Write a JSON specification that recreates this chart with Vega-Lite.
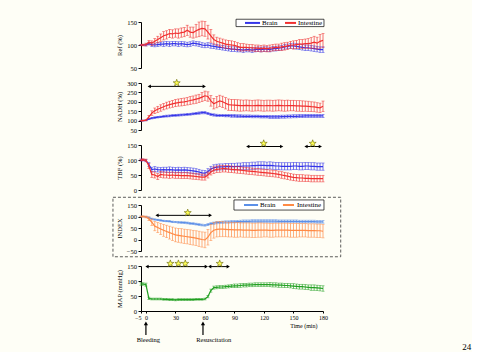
{
"$schema":"https://vega.github.io/schema/vega-lite/v6.json",
"background":"#fefef6",
"padding":{"left":112,"top":18,"right":0,"bottom":0},
"bounds":"flush",
"spacing":15,
"resolve":{"scale":{"x":"independent","y":"independent","color":"independent"}},
"config":{
 "view":{"stroke":null},
 "font":"Liberation Serif",
 "axis":{"labelFont":"Liberation Serif","labelFontSize":6.5,"labelColor":"#000","domainColor":"#000","tickColor":"#000","tickSize":3,"grid":false,"titleFont":"Liberation Serif","titleFontSize":6.5,"titleFontWeight":"normal","titleColor":"#000","labelPadding":1.5,"labelOverlap":false,"labelFlush":false},
 "axisY":{"minExtent":15,"maxExtent":15,"titlePadding":4}
},
"datasets":{
"d":[
{"t":-5,"rb":100,"rbe":1,"ri":100,"rie":1,"nb":100,"nbe":2,"ni":100,"nie":2,"tb":100,"tbe":3,"ti":100,"tie":3,"xb":100,"xbe":2,"xi":100,"xie":2,"m":90,"me":4},
{"t":-3,"rb":100,"rbe":1,"ri":100,"rie":2,"nb":100,"nbe":2,"ni":100,"nie":2,"tb":100,"tbe":3,"ti":101,"tie":3,"xb":100,"xbe":2,"xi":100,"xie":3,"m":90,"me":4},
{"t":0,"rb":100,"rbe":2,"ri":101,"rie":3,"nb":101,"nbe":2,"ni":102,"nie":3,"tb":98,"tbe":4,"ti":99,"tie":4,"xb":99,"xbe":2,"xi":98,"xie":4,"m":88,"me":5},
{"t":3,"rb":103,"rbe":3,"ri":106,"rie":4,"nb":108,"nbe":3,"ni":120,"nie":8,"tb":85,"tbe":6,"ti":80,"tie":8,"xb":95,"xbe":3,"xi":90,"xie":8,"m":42,"me":4},
{"t":6,"rb":101,"rbe":4,"ri":104,"rie":5,"nb":113,"nbe":4,"ni":140,"nie":12,"tb":68,"tbe":8,"ti":52,"tie":10,"xb":90,"xbe":3,"xi":75,"xie":14,"m":40,"me":3},
{"t":9,"rb":100,"rbe":4,"ri":108,"rie":6,"nb":116,"nbe":4,"ni":152,"nie":15,"tb":70,"tbe":8,"ti":50,"tie":10,"xb":87,"xbe":3,"xi":58,"xie":20,"m":40,"me":3},
{"t":12,"rb":101,"rbe":4,"ri":112,"rie":7,"nb":118,"nbe":4,"ni":160,"nie":16,"tb":68,"tbe":8,"ti":45,"tie":10,"xb":85,"xbe":3,"xi":52,"xie":22,"m":40,"me":3},
{"t":15,"rb":102,"rbe":4,"ri":116,"rie":8,"nb":120,"nbe":4,"ni":167,"nie":17,"tb":67,"tbe":8,"ti":52,"tie":10,"xb":83,"xbe":3,"xi":46,"xie":24,"m":40,"me":3},
{"t":18,"rb":102,"rbe":5,"ri":120,"rie":9,"nb":122,"nbe":4,"ni":174,"nie":17,"tb":68,"tbe":8,"ti":50,"tie":10,"xb":81,"xbe":3,"xi":40,"xie":26,"m":39,"me":3},
{"t":21,"rb":103,"rbe":5,"ri":122,"rie":9,"nb":124,"nbe":5,"ni":180,"nie":18,"tb":67,"tbe":9,"ti":50,"tie":10,"xb":80,"xbe":3,"xi":35,"xie":27,"m":39,"me":3},
{"t":24,"rb":102,"rbe":5,"ri":125,"rie":9,"nb":125,"nbe":5,"ni":185,"nie":18,"tb":68,"tbe":9,"ti":49,"tie":10,"xb":79,"xbe":3,"xi":30,"xie":28,"m":38,"me":3},
{"t":27,"rb":103,"rbe":5,"ri":124,"rie":9,"nb":127,"nbe":5,"ni":189,"nie":18,"tb":67,"tbe":9,"ti":50,"tie":10,"xb":77,"xbe":3,"xi":25,"xie":29,"m":38,"me":3},
{"t":30,"rb":103,"rbe":5,"ri":126,"rie":9,"nb":128,"nbe":5,"ni":193,"nie":19,"tb":66,"tbe":9,"ti":49,"tie":10,"xb":76,"xbe":3,"xi":20,"xie":30,"m":37,"me":3},
{"t":33,"rb":102,"rbe":5,"ri":125,"rie":10,"nb":129,"nbe":5,"ni":196,"nie":19,"tb":67,"tbe":9,"ti":49,"tie":10,"xb":75,"xbe":4,"xi":18,"xie":30,"m":38,"me":3},
{"t":36,"rb":103,"rbe":5,"ri":127,"rie":10,"nb":130,"nbe":5,"ni":198,"nie":20,"tb":66,"tbe":9,"ti":48,"tie":10,"xb":74,"xbe":4,"xi":16,"xie":31,"m":38,"me":3},
{"t":39,"rb":102,"rbe":5,"ri":128,"rie":10,"nb":131,"nbe":5,"ni":200,"nie":20,"tb":67,"tbe":9,"ti":48,"tie":10,"xb":73,"xbe":4,"xi":14,"xie":31,"m":38,"me":3},
{"t":42,"rb":101,"rbe":5,"ri":132,"rie":11,"nb":133,"nbe":5,"ni":203,"nie":20,"tb":66,"tbe":9,"ti":48,"tie":10,"xb":72,"xbe":4,"xi":12,"xie":31,"m":38,"me":3},
{"t":45,"rb":102,"rbe":5,"ri":128,"rie":11,"nb":134,"nbe":5,"ni":207,"nie":21,"tb":65,"tbe":9,"ti":47,"tie":10,"xb":70,"xbe":4,"xi":10,"xie":32,"m":38,"me":3},
{"t":48,"rb":104,"rbe":5,"ri":127,"rie":12,"nb":136,"nbe":5,"ni":210,"nie":21,"tb":64,"tbe":9,"ti":46,"tie":10,"xb":69,"xbe":4,"xi":8,"xie":32,"m":38,"me":3},
{"t":51,"rb":103,"rbe":5,"ri":131,"rie":14,"nb":138,"nbe":6,"ni":214,"nie":22,"tb":62,"tbe":9,"ti":45,"tie":10,"xb":67,"xbe":4,"xi":6,"xie":32,"m":39,"me":3},
{"t":54,"rb":102,"rbe":5,"ri":134,"rie":16,"nb":140,"nbe":6,"ni":218,"nie":22,"tb":60,"tbe":9,"ti":44,"tie":10,"xb":65,"xbe":4,"xi":3,"xie":33,"m":39,"me":3},
{"t":57,"rb":100,"rbe":5,"ri":136,"rie":16,"nb":142,"nbe":6,"ni":225,"nie":24,"tb":57,"tbe":9,"ti":43,"tie":10,"xb":63,"xbe":4,"xi":0,"xie":33,"m":39,"me":3},
{"t":60,"rb":99,"rbe":5,"ri":135,"rie":16,"nb":142,"nbe":6,"ni":232,"nie":25,"tb":56,"tbe":9,"ti":43,"tie":10,"xb":62,"xbe":4,"xi":-2,"xie":34,"m":40,"me":3},
{"t":63,"rb":100,"rbe":5,"ri":128,"rie":15,"nb":138,"nbe":6,"ni":228,"nie":25,"tb":62,"tbe":9,"ti":50,"tie":10,"xb":65,"xbe":4,"xi":10,"xie":34,"m":48,"me":4},
{"t":66,"rb":98,"rbe":5,"ri":120,"rie":14,"nb":133,"nbe":6,"ni":205,"nie":28,"tb":70,"tbe":9,"ti":60,"tie":10,"xb":69,"xbe":4,"xi":30,"xie":35,"m":68,"me":5},
{"t":69,"rb":97,"rbe":5,"ri":112,"rie":10,"nb":130,"nbe":6,"ni":190,"nie":28,"tb":74,"tbe":10,"ti":66,"tie":11,"xb":71,"xbe":5,"xi":40,"xie":34,"m":78,"me":5},
{"t":72,"rb":96,"rbe":5,"ri":108,"rie":9,"nb":128,"nbe":6,"ni":198,"nie":30,"tb":76,"tbe":10,"ti":69,"tie":11,"xb":73,"xbe":5,"xi":44,"xie":33,"m":79,"me":5},
{"t":75,"rb":95,"rbe":5,"ri":106,"rie":9,"nb":127,"nbe":6,"ni":205,"nie":30,"tb":77,"tbe":10,"ti":70,"tie":11,"xb":74,"xbe":5,"xi":45,"xie":33,"m":80,"me":5},
{"t":78,"rb":94,"rbe":5,"ri":104,"rie":9,"nb":127,"nbe":6,"ni":200,"nie":30,"tb":77,"tbe":10,"ti":71,"tie":11,"xb":75,"xbe":5,"xi":45,"xie":33,"m":80,"me":5},
{"t":81,"rb":93,"rbe":5,"ri":102,"rie":9,"nb":126,"nbe":6,"ni":192,"nie":30,"tb":78,"tbe":10,"ti":71,"tie":11,"xb":76,"xbe":5,"xi":44,"xie":32,"m":81,"me":5},
{"t":84,"rb":92,"rbe":5,"ri":101,"rie":9,"nb":126,"nbe":6,"ni":185,"nie":30,"tb":78,"tbe":10,"ti":70,"tie":11,"xb":76,"xbe":5,"xi":43,"xie":32,"m":82,"me":5},
{"t":87,"rb":91,"rbe":5,"ri":100,"rie":9,"nb":125,"nbe":7,"ni":183,"nie":30,"tb":78,"tbe":11,"ti":69,"tie":11,"xb":77,"xbe":5,"xi":43,"xie":32,"m":83,"me":5},
{"t":90,"rb":91,"rbe":5,"ri":99,"rie":9,"nb":125,"nbe":7,"ni":182,"nie":30,"tb":78,"tbe":11,"ti":68,"tie":11,"xb":77,"xbe":5,"xi":42,"xie":32,"m":84,"me":6},
{"t":93,"rb":90,"rbe":5,"ri":97,"rie":8,"nb":124,"nbe":7,"ni":181,"nie":30,"tb":79,"tbe":11,"ti":67,"tie":11,"xb":78,"xbe":5,"xi":42,"xie":32,"m":84,"me":6},
{"t":96,"rb":90,"rbe":5,"ri":95,"rie":8,"nb":124,"nbe":7,"ni":180,"nie":30,"tb":79,"tbe":11,"ti":66,"tie":11,"xb":78,"xbe":6,"xi":42,"xie":31,"m":85,"me":6},
{"t":99,"rb":89,"rbe":5,"ri":95,"rie":8,"nb":123,"nbe":7,"ni":180,"nie":29,"tb":80,"tbe":11,"ti":65,"tie":11,"xb":79,"xbe":6,"xi":41,"xie":31,"m":86,"me":6},
{"t":102,"rb":90,"rbe":5,"ri":95,"rie":7,"nb":123,"nbe":7,"ni":181,"nie":29,"tb":80,"tbe":11,"ti":64,"tie":11,"xb":79,"xbe":6,"xi":41,"xie":31,"m":86,"me":6},
{"t":105,"rb":90,"rbe":5,"ri":94,"rie":7,"nb":123,"nbe":7,"ni":180,"nie":29,"tb":80,"tbe":11,"ti":63,"tie":11,"xb":79,"xbe":6,"xi":41,"xie":31,"m":87,"me":6},
{"t":108,"rb":89,"rbe":5,"ri":94,"rie":7,"nb":122,"nbe":7,"ni":179,"nie":29,"tb":81,"tbe":12,"ti":62,"tie":11,"xb":80,"xbe":6,"xi":40,"xie":31,"m":87,"me":6},
{"t":111,"rb":90,"rbe":5,"ri":93,"rie":7,"nb":122,"nbe":7,"ni":180,"nie":29,"tb":81,"tbe":12,"ti":61,"tie":11,"xb":80,"xbe":6,"xi":40,"xie":31,"m":88,"me":6},
{"t":114,"rb":91,"rbe":5,"ri":93,"rie":7,"nb":122,"nbe":7,"ni":181,"nie":29,"tb":82,"tbe":12,"ti":60,"tie":11,"xb":80,"xbe":6,"xi":41,"xie":31,"m":88,"me":6},
{"t":117,"rb":90,"rbe":5,"ri":92,"rie":7,"nb":121,"nbe":7,"ni":180,"nie":29,"tb":82,"tbe":12,"ti":59,"tie":11,"xb":80,"xbe":6,"xi":41,"xie":31,"m":88,"me":6},
{"t":120,"rb":91,"rbe":5,"ri":93,"rie":7,"nb":121,"nbe":7,"ni":179,"nie":29,"tb":82,"tbe":12,"ti":58,"tie":11,"xb":80,"xbe":6,"xi":41,"xie":30,"m":88,"me":6},
{"t":123,"rb":91,"rbe":5,"ri":92,"rie":7,"nb":121,"nbe":7,"ni":180,"nie":29,"tb":81,"tbe":12,"ti":57,"tie":11,"xb":80,"xbe":6,"xi":41,"xie":30,"m":88,"me":6},
{"t":126,"rb":90,"rbe":5,"ri":93,"rie":7,"nb":120,"nbe":8,"ni":180,"nie":29,"tb":82,"tbe":12,"ti":56,"tie":11,"xb":80,"xbe":6,"xi":40,"xie":30,"m":88,"me":7},
{"t":129,"rb":92,"rbe":5,"ri":94,"rie":7,"nb":120,"nbe":8,"ni":179,"nie":29,"tb":81,"tbe":12,"ti":55,"tie":11,"xb":80,"xbe":6,"xi":40,"xie":30,"m":87,"me":7},
{"t":132,"rb":92,"rbe":5,"ri":95,"rie":7,"nb":120,"nbe":8,"ni":180,"nie":29,"tb":80,"tbe":12,"ti":54,"tie":11,"xb":80,"xbe":6,"xi":41,"xie":30,"m":87,"me":7},
{"t":135,"rb":93,"rbe":5,"ri":95,"rie":7,"nb":120,"nbe":8,"ni":181,"nie":29,"tb":80,"tbe":12,"ti":52,"tie":11,"xb":79,"xbe":6,"xi":41,"xie":30,"m":86,"me":7},
{"t":138,"rb":94,"rbe":5,"ri":96,"rie":8,"nb":121,"nbe":8,"ni":180,"nie":29,"tb":79,"tbe":12,"ti":50,"tie":11,"xb":79,"xbe":6,"xi":41,"xie":30,"m":86,"me":7},
{"t":141,"rb":96,"rbe":5,"ri":97,"rie":8,"nb":121,"nbe":8,"ni":179,"nie":29,"tb":79,"tbe":12,"ti":48,"tie":11,"xb":79,"xbe":6,"xi":41,"xie":30,"m":85,"me":7},
{"t":144,"rb":97,"rbe":5,"ri":98,"rie":8,"nb":122,"nbe":8,"ni":180,"nie":29,"tb":79,"tbe":12,"ti":46,"tie":11,"xb":79,"xbe":6,"xi":41,"xie":30,"m":85,"me":7},
{"t":147,"rb":98,"rbe":5,"ri":100,"rie":8,"nb":122,"nbe":8,"ni":180,"nie":28,"tb":79,"tbe":12,"ti":44,"tie":11,"xb":79,"xbe":6,"xi":40,"xie":30,"m":84,"me":7},
{"t":150,"rb":98,"rbe":6,"ri":100,"rie":9,"nb":123,"nbe":8,"ni":180,"nie":28,"tb":80,"tbe":12,"ti":42,"tie":11,"xb":79,"xbe":6,"xi":40,"xie":30,"m":83,"me":8},
{"t":153,"rb":97,"rbe":6,"ri":101,"rie":9,"nb":123,"nbe":8,"ni":178,"nie":28,"tb":80,"tbe":12,"ti":41,"tie":11,"xb":79,"xbe":6,"xi":40,"xie":30,"m":82,"me":8},
{"t":156,"rb":96,"rbe":6,"ri":102,"rie":10,"nb":124,"nbe":8,"ni":178,"nie":28,"tb":79,"tbe":12,"ti":40,"tie":11,"xb":78,"xbe":6,"xi":40,"xie":29,"m":81,"me":8},
{"t":159,"rb":95,"rbe":6,"ri":102,"rie":10,"nb":124,"nbe":8,"ni":177,"nie":28,"tb":79,"tbe":12,"ti":40,"tie":11,"xb":78,"xbe":6,"xi":40,"xie":29,"m":81,"me":8},
{"t":162,"rb":94,"rbe":6,"ri":103,"rie":10,"nb":125,"nbe":8,"ni":177,"nie":27,"tb":80,"tbe":12,"ti":39,"tie":11,"xb":78,"xbe":6,"xi":40,"xie":29,"m":80,"me":8},
{"t":165,"rb":94,"rbe":6,"ri":103,"rie":11,"nb":125,"nbe":8,"ni":176,"nie":27,"tb":80,"tbe":12,"ti":39,"tie":11,"xb":78,"xbe":6,"xi":39,"xie":29,"m":79,"me":8},
{"t":168,"rb":93,"rbe":6,"ri":104,"rie":12,"nb":125,"nbe":8,"ni":174,"nie":26,"tb":79,"tbe":12,"ti":38,"tie":11,"xb":78,"xbe":6,"xi":39,"xie":29,"m":78,"me":9},
{"t":171,"rb":92,"rbe":6,"ri":106,"rie":13,"nb":125,"nbe":8,"ni":173,"nie":26,"tb":79,"tbe":12,"ti":38,"tie":11,"xb":78,"xbe":6,"xi":39,"xie":29,"m":78,"me":9},
{"t":174,"rb":91,"rbe":6,"ri":104,"rie":13,"nb":125,"nbe":8,"ni":170,"nie":25,"tb":78,"tbe":12,"ti":38,"tie":11,"xb":77,"xbe":6,"xi":38,"xie":29,"m":77,"me":9},
{"t":177,"rb":90,"rbe":6,"ri":108,"rie":15,"nb":125,"nbe":8,"ni":168,"nie":25,"tb":78,"tbe":12,"ti":38,"tie":11,"xb":77,"xbe":6,"xi":38,"xie":29,"m":76,"me":9},
{"t":180,"rb":90,"rbe":6,"ri":110,"rie":15,"nb":125,"nbe":8,"ni":176,"nie":28,"tb":78,"tbe":12,"ti":38,"tie":11,"xb":77,"xbe":6,"xi":36,"xie":29,"m":75,"me":9}
],
"arr":[{"p":2,"a":3.4,"b":59.3,"v":282},{"p":3,"a":103.5,"b":138,"v":145},{"p":3,"a":162.7,"b":177.3,"v":145},{"p":4,"a":11.3,"b":65.5,"v":105},{"p":5,"a":1.1,"b":61.4,"v":148},{"p":5,"a":64.8,"b":83.7,"v":148}],
"star":[{"p":2,"t":31.3,"v":300},{"p":3,"t":119.7,"v":155},{"p":3,"t":169.5,"v":155},{"p":4,"t":42.5,"v":116},{"p":5,"t":24.8,"v":158},{"p":5,"t":33,"v":158},{"p":5,"t":40,"v":158},{"p":5,"t":75,"v":158}]
},
"vconcat":[
{"width":182,"height":46,"data":{"name":"d"},
 "resolve":{"axis":{"x":"independent","y":"independent"}},
 "layer":[
  {"mark":{"type":"line","color":"#3535e8","strokeWidth":1.2},"encoding":{"x":{"field":"t","type":"quantitative","scale":{"domain":[-5,180],"nice":false,"zero":false},"axis":null},"y":{"field":"rb","type":"quantitative","scale":{"domain":[50,150],"nice":false,"zero":false},"axis":{"values":[50,100,150],"title":"Ref (%)","labelOverlap":false}}}},
  {"mark":{"type":"errorbar","ticks":true,"size":3,"thickness":0.7,"color":"#3535e8"},"encoding":{"x":{"field":"t","type":"quantitative","axis":null},"y":{"field":"rb","type":"quantitative","axis":null},"yError":{"field":"rbe"}}},
  {"mark":{"type":"errorbar","ticks":true,"size":3,"thickness":0.7,"color":"#f03030"},"encoding":{"x":{"field":"t","type":"quantitative","axis":null},"y":{"field":"ri","type":"quantitative","axis":null},"yError":{"field":"rie"}}},
  {"mark":{"type":"line","color":"#f03030","strokeWidth":1.2},"encoding":{"x":{"field":"t","type":"quantitative","axis":null},"y":{"field":"ri","type":"quantitative","axis":null}}},
  {"data":{"values":[{"a":91.6,"b":181,"lo":140,"hi":156}]},"mark":{"type":"rect","fill":"#ffffff","stroke":"#000000","strokeWidth":0.7},"encoding":{"x":{"field":"a","type":"quantitative","axis":null},"x2":{"field":"b"},"y":{"field":"lo","type":"quantitative","axis":null},"y2":{"field":"hi"}}},
  {"data":{"values":[{"a":100.7,"b":116,"v":148,"s":"Brain"},{"a":141.4,"b":152.6,"v":148,"s":"Intestine"}]},"mark":{"type":"rule","strokeWidth":2},"encoding":{"x":{"field":"a","type":"quantitative","axis":null},"x2":{"field":"b"},"y":{"field":"v","type":"quantitative","axis":null},"color":{"field":"s","type":"nominal","scale":{"domain":["Brain","Intestine"],"range":["#3535e8","#f03030"]},"legend":null}}},
  {"data":{"values":[{"a":118,"v":148,"s":"Brain"},{"a":154.6,"v":148,"s":"Intestine"}]},"mark":{"type":"text","align":"left","baseline":"middle","fontSize":7,"font":"Liberation Serif"},"encoding":{"x":{"field":"a","type":"quantitative","axis":null},"y":{"field":"v","type":"quantitative","axis":null},"text":{"field":"s"}}}
 ]},
{"width":182,"height":47,"data":{"name":"d"},
 "resolve":{"axis":{"x":"independent","y":"independent"}},
 "layer":[
  {"mark":{"type":"line","color":"#3535e8","strokeWidth":1.2},"encoding":{"x":{"field":"t","type":"quantitative","scale":{"domain":[-5,180],"nice":false,"zero":false},"axis":null},"y":{"field":"nb","type":"quantitative","scale":{"domain":[50,300],"nice":false,"zero":false},"axis":{"values":[50,100,150,200,250,300],"title":"NADH (%)","labelOverlap":false}}}},
  {"mark":{"type":"errorbar","ticks":true,"size":3,"thickness":0.7,"color":"#3535e8"},"encoding":{"x":{"field":"t","type":"quantitative","axis":null},"y":{"field":"nb","type":"quantitative","axis":null},"yError":{"field":"nbe"}}},
  {"mark":{"type":"errorbar","ticks":true,"size":3,"thickness":0.7,"color":"#f03030"},"encoding":{"x":{"field":"t","type":"quantitative","axis":null},"y":{"field":"ni","type":"quantitative","axis":null},"yError":{"field":"nie"}}},
  {"mark":{"type":"line","color":"#f03030","strokeWidth":1.2},"encoding":{"x":{"field":"t","type":"quantitative","axis":null},"y":{"field":"ni","type":"quantitative","axis":null}}},
  {"data":{"name":"arr"},"transform":[{"filter":"datum.p==2"}],"mark":{"type":"rule","color":"#000000","strokeWidth":1},"encoding":{"x":{"field":"a","type":"quantitative","axis":null},"x2":{"field":"b"},"y":{"field":"v","type":"quantitative","axis":null}}},
  {"data":{"name":"arr"},"transform":[{"filter":"datum.p==2"}],"mark":{"type":"point","shape":"triangle-left","filled":true,"color":"#000000","size":14,"opacity":1},"encoding":{"x":{"field":"a","type":"quantitative","axis":null},"y":{"field":"v","type":"quantitative","axis":null}}},
  {"data":{"name":"arr"},"transform":[{"filter":"datum.p==2"}],"mark":{"type":"point","shape":"triangle-right","filled":true,"color":"#000000","size":14,"opacity":1},"encoding":{"x":{"field":"b","type":"quantitative","axis":null},"y":{"field":"v","type":"quantitative","axis":null}}},
  {"data":{"name":"star"},"transform":[{"filter":"datum.p==2"}],"mark":{"type":"point","shape":"M0,-1L0.24,-0.33L0.95,-0.31L0.38,0.12L0.59,0.81L0,0.4L-0.59,0.81L-0.38,0.12L-0.95,-0.31L-0.24,-0.33Z","filled":true,"fill":"#ffff55","stroke":"#666600","strokeWidth":0.6,"size":55,"opacity":1},"encoding":{"x":{"field":"t","type":"quantitative","axis":null},"y":{"field":"v","type":"quantitative","axis":null}}}
 ]},
{"width":182,"height":45,"data":{"name":"d"},
 "resolve":{"axis":{"x":"independent","y":"independent"}},
 "layer":[
  {"mark":{"type":"line","color":"#3535e8","strokeWidth":1.2},"encoding":{"x":{"field":"t","type":"quantitative","scale":{"domain":[-5,180],"nice":false,"zero":false},"axis":null},"y":{"field":"tb","type":"quantitative","scale":{"domain":[0,150],"nice":false,"zero":false},"axis":{"values":[0,50,100,150],"title":"TBF (%)","labelOverlap":false}}}},
  {"mark":{"type":"errorbar","ticks":true,"size":3,"thickness":0.7,"color":"#3535e8"},"encoding":{"x":{"field":"t","type":"quantitative","axis":null},"y":{"field":"tb","type":"quantitative","axis":null},"yError":{"field":"tbe"}}},
  {"mark":{"type":"errorbar","ticks":true,"size":3,"thickness":0.7,"color":"#f03030"},"encoding":{"x":{"field":"t","type":"quantitative","axis":null},"y":{"field":"ti","type":"quantitative","axis":null},"yError":{"field":"tie"}}},
  {"mark":{"type":"line","color":"#f03030","strokeWidth":1.2},"encoding":{"x":{"field":"t","type":"quantitative","axis":null},"y":{"field":"ti","type":"quantitative","axis":null}}},
  {"data":{"name":"arr"},"transform":[{"filter":"datum.p==3"}],"mark":{"type":"rule","color":"#000000","strokeWidth":1},"encoding":{"x":{"field":"a","type":"quantitative","axis":null},"x2":{"field":"b"},"y":{"field":"v","type":"quantitative","axis":null}}},
  {"data":{"name":"arr"},"transform":[{"filter":"datum.p==3"}],"mark":{"type":"point","shape":"triangle-left","filled":true,"color":"#000000","size":14,"opacity":1},"encoding":{"x":{"field":"a","type":"quantitative","axis":null},"y":{"field":"v","type":"quantitative","axis":null}}},
  {"data":{"name":"arr"},"transform":[{"filter":"datum.p==3"}],"mark":{"type":"point","shape":"triangle-right","filled":true,"color":"#000000","size":14,"opacity":1},"encoding":{"x":{"field":"b","type":"quantitative","axis":null},"y":{"field":"v","type":"quantitative","axis":null}}},
  {"data":{"name":"star"},"transform":[{"filter":"datum.p==3"}],"mark":{"type":"point","shape":"M0,-1L0.24,-0.33L0.95,-0.31L0.38,0.12L0.59,0.81L0,0.4L-0.59,0.81L-0.38,0.12L-0.95,-0.31L-0.24,-0.33Z","filled":true,"fill":"#ffff55","stroke":"#666600","strokeWidth":0.6,"size":55,"opacity":1},"encoding":{"x":{"field":"t","type":"quantitative","axis":null},"y":{"field":"v","type":"quantitative","axis":null}}}
 ]},
{"width":182,"height":46,"data":{"name":"d"},
 "resolve":{"axis":{"x":"independent","y":"independent"}},
 "layer":[
  {"mark":{"type":"line","color":"#5b8fe8","strokeWidth":1.2},"encoding":{"x":{"field":"t","type":"quantitative","scale":{"domain":[-5,180],"nice":false,"zero":false},"axis":null},"y":{"field":"xb","type":"quantitative","scale":{"domain":[-50,150],"nice":false,"zero":false},"axis":{"values":[-50,0,50,100,150],"title":"INDEX","labelOverlap":false}}}},
  {"data":{"values":[{"a":-33.5,"b":198,"lo":-75,"hi":183.5}]},"mark":{"type":"rect","fillOpacity":0,"stroke":"#333333","strokeWidth":0.8,"strokeDash":[3,2]},"encoding":{"x":{"field":"a","type":"quantitative","axis":null},"x2":{"field":"b"},"y":{"field":"lo","type":"quantitative","axis":null},"y2":{"field":"hi"}}},
  {"mark":{"type":"errorbar","ticks":true,"size":3,"thickness":0.7,"color":"#5b8fe8"},"encoding":{"x":{"field":"t","type":"quantitative","axis":null},"y":{"field":"xb","type":"quantitative","axis":null},"yError":{"field":"xbe"}}},
  {"mark":{"type":"errorbar","ticks":true,"size":3,"thickness":0.7,"color":"#ff8a45"},"encoding":{"x":{"field":"t","type":"quantitative","axis":null},"y":{"field":"xi","type":"quantitative","axis":null},"yError":{"field":"xie"}}},
  {"mark":{"type":"line","color":"#ff8a45","strokeWidth":1.2},"encoding":{"x":{"field":"t","type":"quantitative","axis":null},"y":{"field":"xi","type":"quantitative","axis":null}}},
  {"data":{"name":"arr"},"transform":[{"filter":"datum.p==4"}],"mark":{"type":"rule","color":"#000000","strokeWidth":1},"encoding":{"x":{"field":"a","type":"quantitative","axis":null},"x2":{"field":"b"},"y":{"field":"v","type":"quantitative","axis":null}}},
  {"data":{"name":"arr"},"transform":[{"filter":"datum.p==4"}],"mark":{"type":"point","shape":"triangle-left","filled":true,"color":"#000000","size":14,"opacity":1},"encoding":{"x":{"field":"a","type":"quantitative","axis":null},"y":{"field":"v","type":"quantitative","axis":null}}},
  {"data":{"name":"arr"},"transform":[{"filter":"datum.p==4"}],"mark":{"type":"point","shape":"triangle-right","filled":true,"color":"#000000","size":14,"opacity":1},"encoding":{"x":{"field":"b","type":"quantitative","axis":null},"y":{"field":"v","type":"quantitative","axis":null}}},
  {"data":{"name":"star"},"transform":[{"filter":"datum.p==4"}],"mark":{"type":"point","shape":"M0,-1L0.24,-0.33L0.95,-0.31L0.38,0.12L0.59,0.81L0,0.4L-0.59,0.81L-0.38,0.12L-0.95,-0.31L-0.24,-0.33Z","filled":true,"fill":"#ffff55","stroke":"#666600","strokeWidth":0.6,"size":55,"opacity":1},"encoding":{"x":{"field":"t","type":"quantitative","axis":null},"y":{"field":"v","type":"quantitative","axis":null}}},
  {"data":{"values":[{"a":89.5,"b":181,"lo":128,"hi":172}]},"mark":{"type":"rect","fill":"#ffffff","stroke":"#000000","strokeWidth":0.7},"encoding":{"x":{"field":"a","type":"quantitative","axis":null},"x2":{"field":"b"},"y":{"field":"lo","type":"quantitative","axis":null},"y2":{"field":"hi"}}},
  {"data":{"values":[{"a":99.7,"b":114,"v":150,"s":"Brain"},{"a":139.3,"b":150.5,"v":150,"s":"Intestine"}]},"mark":{"type":"rule","strokeWidth":2},"encoding":{"x":{"field":"a","type":"quantitative","axis":null},"x2":{"field":"b"},"y":{"field":"v","type":"quantitative","axis":null},"color":{"field":"s","type":"nominal","scale":{"domain":["Brain","Intestine"],"range":["#5b8fe8","#ff8a45"]},"legend":null}}},
  {"data":{"values":[{"a":116,"v":150,"s":"Brain"},{"a":153.6,"v":150,"s":"Intestine"}]},"mark":{"type":"text","align":"left","baseline":"middle","fontSize":7,"font":"Liberation Serif"},"encoding":{"x":{"field":"a","type":"quantitative","axis":null},"y":{"field":"v","type":"quantitative","axis":null},"text":{"field":"s"}}}
 ]},
{"width":182,"height":45,"data":{"name":"d"},
 "resolve":{"axis":{"x":"independent","y":"independent"}},
 "layer":[
  {"mark":{"type":"line","color":"#22a022","strokeWidth":1.2},"encoding":{"x":{"field":"t","type":"quantitative","scale":{"domain":[-5,180],"nice":false,"zero":false},"axis":{"values":[-5,0,30,60,90,120,150,180],"title":"Time (min)","titleAlign":"right","titleX":176,"titleY":14,"titleBaseline":"middle","titleFontSize":6,"labelFontSize":6,"tickSize":2,"labelPadding":1,"labelOverlap":false,"labelFlush":false,"labelAlign":{"condition":{"test":"datum.value == -5","value":"right"},"value":"center"}}},"y":{"field":"m","type":"quantitative","scale":{"domain":[0,150],"nice":false,"zero":false},"axis":{"values":[0,50,100,150],"title":"MAP (mmHg)","labelOverlap":false}}}},
  {"mark":{"type":"errorbar","ticks":true,"size":3,"thickness":0.7,"color":"#22a022"},"encoding":{"x":{"field":"t","type":"quantitative","axis":null},"y":{"field":"m","type":"quantitative","axis":null},"yError":{"field":"me"}}},
  {"data":{"name":"arr"},"transform":[{"filter":"datum.p==5"}],"mark":{"type":"rule","color":"#000000","strokeWidth":1},"encoding":{"x":{"field":"a","type":"quantitative","axis":null},"x2":{"field":"b"},"y":{"field":"v","type":"quantitative","axis":null}}},
  {"data":{"name":"arr"},"transform":[{"filter":"datum.p==5"}],"mark":{"type":"point","shape":"triangle-left","filled":true,"color":"#000000","size":14,"opacity":1},"encoding":{"x":{"field":"a","type":"quantitative","axis":null},"y":{"field":"v","type":"quantitative","axis":null}}},
  {"data":{"name":"arr"},"transform":[{"filter":"datum.p==5"}],"mark":{"type":"point","shape":"triangle-right","filled":true,"color":"#000000","size":14,"opacity":1},"encoding":{"x":{"field":"b","type":"quantitative","axis":null},"y":{"field":"v","type":"quantitative","axis":null}}},
  {"data":{"name":"star"},"transform":[{"filter":"datum.p==5"}],"mark":{"type":"point","shape":"M0,-1L0.24,-0.33L0.95,-0.31L0.38,0.12L0.59,0.81L0,0.4L-0.59,0.81L-0.38,0.12L-0.95,-0.31L-0.24,-0.33Z","filled":true,"fill":"#ffff55","stroke":"#666600","strokeWidth":0.6,"size":55,"opacity":1},"encoding":{"x":{"field":"t","type":"quantitative","axis":null},"y":{"field":"v","type":"quantitative","axis":null}}},
  {"data":{"values":[{"t":0,"v1":-80,"v2":-43},{"t":58,"v1":-80,"v2":-43}]},"mark":{"type":"rule","color":"#000000","strokeWidth":1.2},"encoding":{"x":{"field":"t","type":"quantitative","axis":null},"y":{"field":"v1","type":"quantitative","axis":null},"y2":{"field":"v2"}}},
  {"data":{"values":[{"t":0,"v":-41},{"t":58,"v":-41}]},"mark":{"type":"point","shape":"triangle-up","filled":true,"color":"#000000","size":18,"opacity":1},"encoding":{"x":{"field":"t","type":"quantitative","axis":null},"y":{"field":"v","type":"quantitative","axis":null}}},
  {"data":{"values":[{"t":2.5,"v":-96,"s":"Bleeding"},{"t":69,"v":-96,"s":"Resuscitation"}]},"mark":{"type":"text","align":"center","baseline":"middle","fontSize":6.5,"font":"Liberation Serif","color":"#000000"},"encoding":{"x":{"field":"t","type":"quantitative","axis":null},"y":{"field":"v","type":"quantitative","axis":null},"text":{"field":"s"}}},
  {"data":{"values":[{"t":326,"v":-120,"s":"24"}]},"mark":{"type":"text","align":"center","baseline":"middle","fontSize":9,"font":"Liberation Serif","color":"#000000"},"encoding":{"x":{"field":"t","type":"quantitative","axis":null},"y":{"field":"v","type":"quantitative","axis":null},"text":{"field":"s"}}}
 ]}
]
}
